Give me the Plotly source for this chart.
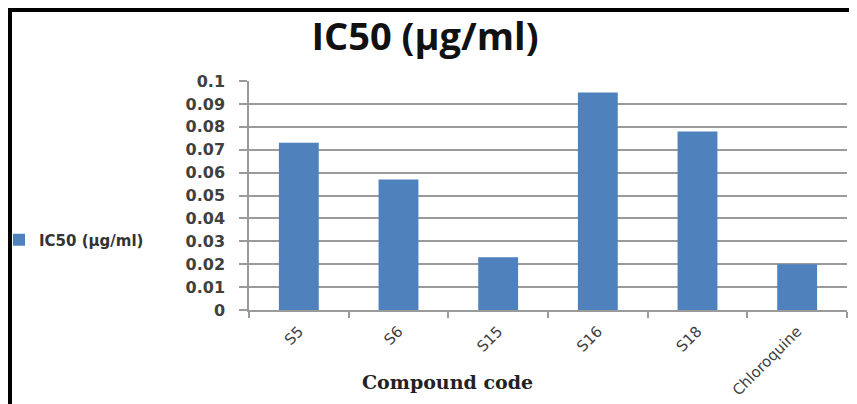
import plotly.graph_objects as go

categories = ["S5", "S6", "S15", "S16", "S18", "Chloroquine"]
ic50_values = [0.073, 0.057, 0.023, 0.095, 0.078, 0.020]
y_tick_vals = [0, 0.01, 0.02, 0.03, 0.04, 0.05, 0.06, 0.07, 0.08, 0.09, 0.1]
y_tick_text = ["0", "0.01", "0.02", "0.03", "0.04", "0.05", "0.06", "0.07", "0.08", "0.09", "0.1"]
series_name = "IC50 (µg/ml)"
chart_title = "IC50 (µg/ml)"
x_title = "Compound code"

# page body has an 8px margin, so the figure is sized to fit the window
W, H = 849, 396
L, R, T, B = 241, 10, 73, 94
pw = W - L - R
ph = H - T - B

def px_x(x):
    return (x - L) / pw

def px_y(y):
    return (H - B - y) / ph

fig = go.Figure()
fig.add_trace(go.Bar(
    x=categories, y=ic50_values, name=series_name,
    marker=dict(color="#4F81BD", line=dict(width=0)),
    showlegend=True,
))

grid_col = "#9a9a9a"
fig.update_layout(
    width=W, height=H,
    margin=dict(l=L, r=R, t=T, b=B, autoexpand=False),
    paper_bgcolor="white", plot_bgcolor="white",
    bargap=0.6,
    showlegend=True,
    title=dict(text="<b>" + chart_title + "</b>", x=417 / W, xref="container", xanchor="center",
               y=1 - 29 / H, yref="container", yanchor="middle",
               font=dict(family="Open Sans", size=38, color="#111111")),
    legend=dict(x=px_x(-9), xref="paper", xanchor="left", y=px_y(232), yref="paper",
                yanchor="middle",
                font=dict(family="DejaVu Sans", size=15, color="#333333", weight="bold"),
                bgcolor="rgba(0,0,0,0)", itemwidth=30, tracegroupgap=0),
    font=dict(family="DejaVu Sans", color="#404040"),
)
fig.update_yaxes(
    range=[0, 0.1], tickvals=y_tick_vals, ticktext=y_tick_text,
    showgrid=True, gridcolor=grid_col, gridwidth=1.5,
    showline=True, linecolor=grid_col, linewidth=1.5,
    ticks="outside", ticklen=8, tickcolor=grid_col, tickwidth=1.5,
    ticklabelstandoff=11,
    tickfont=dict(family="DejaVu Sans", size=16, color="#404040", weight="bold"),
    zeroline=False,
)
fig.update_xaxes(
    showline=True, linecolor=grid_col, linewidth=1.5,
    ticks="outside", tickson="boundaries", ticklen=6, tickcolor=grid_col, tickwidth=1.5,
    tickangle=-45, ticklabelstandoff=5,
    tickfont=dict(family="DejaVu Sans", size=15, color="#404040"),
    showgrid=False,
)
fig.add_annotation(
    text="<b>" + x_title + "</b>", xref="paper", yref="paper",
    x=px_x(439), y=px_y(374), xanchor="center", yanchor="middle", showarrow=False,
    font=dict(family="DejaVu Serif", size=19, color="#222222"),
)
# black frame (top and left edges)
fig.add_shape(type="line", xref="paper", yref="paper",
              x0=px_x(0), x1=px_x(W + 5), y0=px_y(2), y1=px_y(2),
              line=dict(color="black", width=4))
fig.add_shape(type="line", xref="paper", yref="paper",
              x0=px_x(2), x1=px_x(2), y0=px_y(0), y1=px_y(H + 5),
              line=dict(color="black", width=4))

fig.write_html("out.html")
